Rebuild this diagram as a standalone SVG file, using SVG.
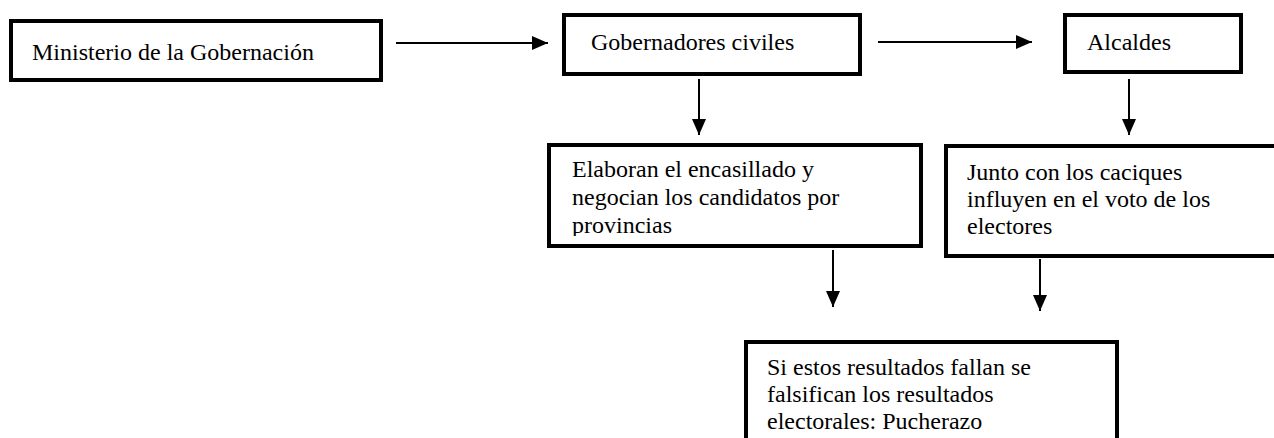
<svg xmlns="http://www.w3.org/2000/svg" width="1274" height="438" viewBox="0 0 1274 438">
  <style>
    .box { fill: #ffffff; stroke: #000000; stroke-width: 4; }
    .lbl { font-family: "Liberation Serif", "Times New Roman", serif; font-size: 24px; fill: #000000; }
    .conn { stroke: #000000; stroke-width: 2; fill: none; marker-end: url(#arrow); }
  </style>
  <defs>
    <marker id="arrow" viewBox="0 0 16 14" refX="16" refY="7" markerWidth="16" markerHeight="14" markerUnits="userSpaceOnUse" orient="auto">
      <path d="M0,0 L16,7 L0,14 Z" fill="#000000"/>
    </marker>
    <clipPath id="clipElab">
      <rect x="551" y="147" width="368" height="89"/>
    </clipPath>
  </defs>
  <rect width="1274" height="438" fill="#ffffff"/>

  <g id="connectors">
    <line class="conn" x1="396" y1="43" x2="548" y2="43"/>
    <line class="conn" x1="878" y1="42" x2="1032" y2="42"/>
    <line class="conn" x1="699" y1="79" x2="699" y2="135"/>
    <line class="conn" x1="1129" y1="79" x2="1129" y2="135"/>
    <line class="conn" x1="833" y1="250" x2="833" y2="307"/>
    <line class="conn" x1="1040" y1="259" x2="1040" y2="311"/>
  </g>

  <g id="node-ministerio">
    <rect class="box" x="11" y="21" width="370" height="59"/>
    <text class="lbl" x="32" y="60">Ministerio de la Gobernación</text>
  </g>

  <g id="node-gobernadores">
    <rect class="box" x="564" y="15" width="296" height="59"/>
    <text class="lbl" x="591" y="50">Gobernadores civiles</text>
  </g>

  <g id="node-alcaldes">
    <rect class="box" x="1065" y="15" width="176" height="57"/>
    <text class="lbl" x="1087" y="50">Alcaldes</text>
  </g>

  <g id="node-elaboran">
    <rect class="box" x="549" y="145" width="372" height="101"/>
    <g clip-path="url(#clipElab)">
      <text class="lbl" x="572" y="177">Elaboran el encasillado y</text>
      <text class="lbl" x="572" y="205">negocian los candidatos por</text>
      <text class="lbl" x="572" y="233">provincias</text>
    </g>
  </g>

  <g id="node-junto">
    <rect class="box" x="946" y="146" width="340" height="110"/>
    <text class="lbl" x="967" y="180">Junto con los caciques</text>
    <text class="lbl" x="967" y="207">influyen en el voto de los</text>
    <text class="lbl" x="967" y="234">electores</text>
  </g>

  <g id="node-pucherazo">
    <rect class="box" x="746" y="342" width="371" height="110"/>
    <text class="lbl" x="767" y="375">Si estos resultados fallan se</text>
    <text class="lbl" x="767" y="402">falsifican los resultados</text>
    <text class="lbl" x="767" y="429">electorales: Pucherazo</text>
  </g>
</svg>
